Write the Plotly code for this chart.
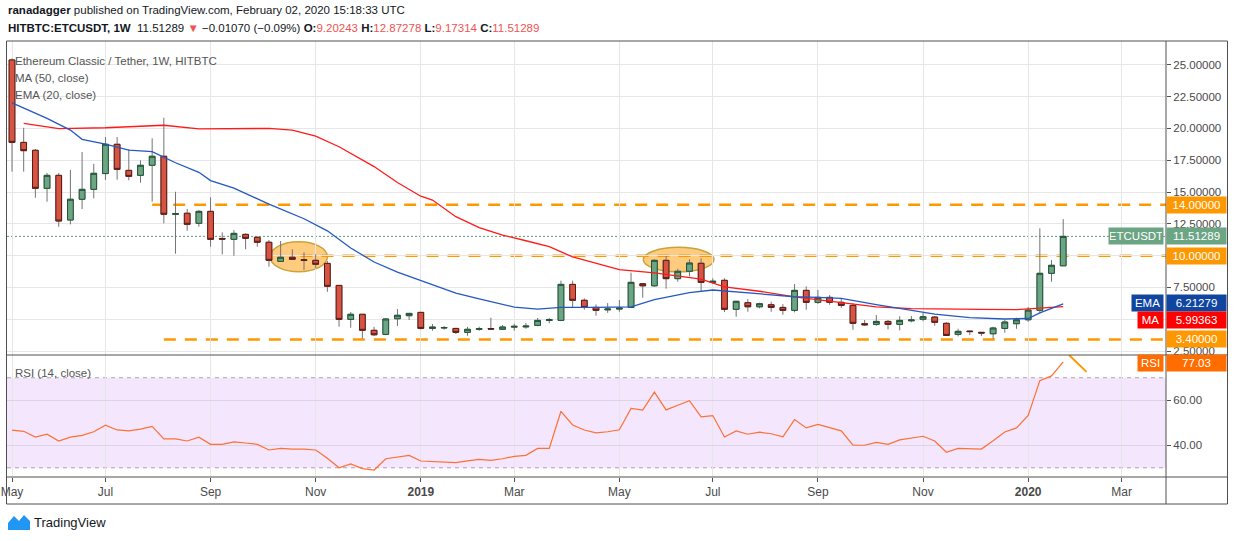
import datetime as dt
import plotly.graph_objects as go
from plotly.subplots import make_subplots

# ETC/USDT weekly candles (HITBTC), first bar = week of 2018-05-07
first_week = dt.datetime(2018, 5, 7)

opens = [25.38, 18.9, 18.28, 15.29, 16.31, 12.8, 14.43, 15.21, 16.45, 18.75,
         16.7, 16.31, 17.1, 17.81, 13.25, 13.33, 12.54, 13.48, 11.35, 11.28,
         11.67, 11.44, 11.05, 9.55, 9.87, 9.68, 9.63, 9.39, 7.66, 4.99,
         5.39, 4.13, 3.81, 5.04, 5.28, 5.54, 4.28, 4.31, 4.28, 3.97,
         4.21, 4.27, 4.21, 4.38, 4.40, 4.52, 4.9, 4.91, 7.74, 6.49,
         5.93, 5.74, 5.8, 5.93, 7.79, 7.63, 9.63, 8.19, 8.77, 9.4,
         7.9, 8.06, 5.78, 6.3, 5.98, 6.14, 5.93, 5.7, 7.27, 6.33,
         6.72, 6.33, 6.09, 4.65, 4.6, 4.83, 4.6, 4.88, 5.0, 5.17,
         4.68, 3.81, 4.07, 3.97, 3.86, 4.28, 4.65, 4.96, 5.7, 8.61,
         9.20243]
highs = [25.5, 20.05, 18.38, 16.5, 16.5, 16.73, 18.14, 17.22, 19.32, 19.32,
         18.38, 17.49, 19.22, 20.84, 15.02, 13.66, 13.6, 14.58, 11.83, 12.0,
         11.75, 11.5, 11.23, 11.15, 10.5, 10.26, 10.1, 9.58, 7.66, 5.57,
         5.4, 4.41, 5.1, 5.8, 5.5, 5.55, 4.62, 4.47, 4.28, 4.4,
         4.41, 5.12, 4.55, 4.65, 4.7, 5.1, 5.1, 8.03, 8.03, 6.64,
         6.16, 6.27, 6.51, 8.66, 7.8, 9.71, 9.97, 8.97, 9.71, 9.79,
         8.22, 8.22, 6.45, 6.59, 6.3, 6.38, 6.19, 7.77, 7.58, 7.3,
         6.9, 6.64, 6.25, 4.94, 5.33, 4.94, 5.23, 5.25, 5.51, 5.25,
         4.76, 4.25, 4.08, 4.0, 4.41, 4.94, 5.12, 5.96, 12.15, 9.65,
         12.87278]
lows = [16.6, 16.6, 14.55, 14.24, 12.27, 12.46, 13.66, 14.5, 15.94, 15.97,
        15.92, 15.73, 14.24, 12.54, 10.15, 11.96, 12.27, 10.7, 10.1, 9.99,
        10.5, 10.7, 9.13, 9.52, 9.68, 8.87, 9.0, 7.16, 4.41, 4.33,
        3.5, 3.68, 3.75, 4.47, 4.94, 4.2, 4.1, 4.18, 3.84, 3.7,
        4.1, 4.2, 4.2, 4.1, 4.25, 4.45, 4.68, 4.85, 5.93, 5.75,
        5.28, 5.5, 5.58, 5.9, 6.69, 7.55, 7.4, 7.95, 8.37, 7.22,
        7.77, 5.57, 5.2, 5.59, 5.86, 5.59, 5.35, 5.54, 5.75, 6.2,
        6.14, 5.9, 4.17, 4.47, 4.49, 4.2, 4.13, 4.76, 4.85, 4.49,
        3.68, 3.65, 3.76, 3.68, 3.47, 3.94, 4.25, 4.8, 5.46, 7.95,
        9.17314]
closes = [18.9, 18.25, 15.29, 16.31, 12.72, 14.43, 15.21, 16.47, 18.75, 16.78,
          16.23, 17.1, 17.81, 13.25, 13.3, 12.46, 13.48, 11.28, 11.3, 11.75,
          11.36, 11.05, 9.63, 9.87, 9.71, 9.63, 9.32, 7.59, 4.99, 5.39,
          4.13, 3.78, 5.02, 5.31, 5.46, 4.28, 4.38, 4.35, 3.97, 4.21,
          4.25, 4.23, 4.39, 4.44, 4.46, 4.91, 4.97, 7.74, 6.49, 5.93,
          5.7, 5.8, 5.88, 7.9, 7.63, 9.63, 8.19, 8.77, 9.42, 7.9,
          7.98, 5.78, 6.41, 5.98, 6.22, 5.93, 5.7, 7.27, 6.33, 6.72,
          6.33, 6.09, 4.68, 4.57, 4.83, 4.6, 4.91, 4.94, 5.2, 4.76,
          3.73, 4.05, 4.03, 3.92, 4.31, 4.78, 4.96, 5.72, 8.61, 9.24,
          11.51289]

# RSI (14, close), one value per bar
rsi = [46.7, 46.2, 43.6, 44.9, 41.9, 43.6, 44.4, 46.0, 48.9, 46.8,
       46.4, 47.2, 48.4, 42.8, 42.8, 41.9, 43.6, 40.4, 40.4, 41.5,
       41.0, 40.4, 37.9, 38.6, 38.3, 38.3, 37.9, 34.2, 30.0, 31.7,
       29.6, 29.0, 34.0, 34.9, 35.5, 33.0, 32.8, 32.8, 32.3, 33.1,
       33.7, 33.3, 34.0, 35.1, 35.5, 38.6, 38.6, 55.1, 49.0, 46.8,
       45.5, 46.0, 46.9, 56.4, 55.6, 63.6, 55.7, 57.8, 59.8, 52.6,
       53.2, 43.7, 46.4, 44.9, 45.8, 45.1, 43.7, 51.4, 47.7, 49.3,
       47.7, 46.4, 40.1, 40.0, 41.3, 40.4, 42.4, 43.1, 44.0, 41.9,
       36.9, 38.6, 38.6, 38.3, 42.0, 45.9, 47.7, 53.3, 68.7, 70.8,
       77.03]

# moving averages (bar index, value)
ma50_bar = [1, 4, 8, 13, 16, 22, 24, 26, 28, 31, 33, 35, 36, 38, 40, 42, 44, 46,
            48, 50, 52, 55, 59, 61, 64, 67, 68, 71, 74, 77, 80, 83, 86, 88, 90]
ma50_val = [20.4, 19.98, 20.05, 20.25, 19.97, 20.0, 19.87, 19.4, 18.56, 17.0, 15.75,
            14.67, 14.37, 13.06, 12.2, 11.62, 11.17, 10.7, 9.9, 9.4, 8.9, 8.65, 8.15,
            7.55, 7.2, 6.75, 6.64, 6.3, 5.98, 5.83, 5.78, 5.78, 5.76, 5.85, 5.99363]
ema20_bar = [0, 3, 5, 6, 8, 10, 12, 14, 16, 17, 19, 22, 25, 27, 29, 31, 33, 36, 38,
             40, 43, 45, 47, 50, 53, 55, 58, 60, 61, 64, 67, 69, 71, 74, 76, 79, 82,
             85, 87, 88, 90]
ema20_val = [22.0, 20.79, 19.87, 19.14, 18.77, 18.3, 18.17, 17.3, 16.55, 15.9, 15.3,
             14.05, 12.9, 11.95, 10.6, 9.5, 8.7, 7.75, 7.06, 6.6, 5.96, 5.8, 5.94, 5.94,
             5.98, 6.55, 7.1, 7.3, 7.22, 6.95, 6.77, 6.72, 6.64, 6.15, 5.85, 5.4, 5.12,
             5.02, 5.06, 5.5, 6.21279]

# horizontal levels and where they begin (bar index)
levels = [14.0, 10.0, 3.4]
level_start = [12, 24.7, 13]

# highlighted consolidation zones (bar from, bar to, price low, price high)
zones = [(22.1, 27.0, 8.73, 11.09), (54.05, 60.1, 8.73, 10.65)]

tick_dates = ["2018-05-07", "2018-07-02", "2018-09-03", "2018-11-05", "2019-01-07",
              "2019-03-04", "2019-05-06", "2019-07-01", "2019-09-02", "2019-11-04",
              "2020-01-06", "2020-03-02"]
tick_text = ["May", "Jul", "Sep", "Nov", "<b>2019</b>", "Mar", "May", "Jul", "Sep",
             "Nov", "<b>2020</b>", "Mar"]

W, H = 1234, 541
ML, MR, MT, MB = 7, 68, 41, 64
FONT = "Liberation Sans, Arial, sans-serif"
UP, UP_EDGE = "#6BA583", "#225437"
DN, DN_EDGE = "#D75442", "#5B1A13"
WICK = "#737375"
ORANGE = "#FF9800"
RED_TXT = "#EF5350"
GRID = "#E6E6E6"
FRAME = "#505050"


def bar_date(i):
    return first_week + dt.timedelta(weeks=i)


def px(x):
    return (x - ML) / (W - ML - MR)


def py(y):
    return (H - MB - y) / (H - MT - MB)


dates = [bar_date(i) for i in range(len(closes))]
body_hi = [max(o, c) for o, c in zip(opens, closes)]
body_lo = [min(o, c) for o, c in zip(opens, closes)]

split = py(355)
fig = make_subplots(rows=2, cols=1, shared_xaxes=True, vertical_spacing=0,
                    row_heights=[1 - split, split])

# wicks
fig.add_trace(go.Candlestick(
    x=dates, open=opens, high=highs, low=lows, close=closes,
    increasing=dict(line=dict(color=WICK, width=1), fillcolor="rgba(0,0,0,0)"),
    decreasing=dict(line=dict(color=WICK, width=1), fillcolor="rgba(0,0,0,0)"),
    whiskerwidth=0, showlegend=False, hoverinfo="skip"), row=1, col=1)
# bodies
fig.add_trace(go.Candlestick(
    x=dates, open=opens, high=body_hi, low=body_lo, close=closes,
    increasing=dict(line=dict(color=UP_EDGE, width=1), fillcolor=UP),
    decreasing=dict(line=dict(color=DN_EDGE, width=1), fillcolor=DN),
    whiskerwidth=0, showlegend=False), row=1, col=1)

fig.add_trace(go.Scatter(x=[bar_date(i) for i in ma50_bar], y=ma50_val, mode="lines",
                         line=dict(color="#FF1A1A", width=1.3), showlegend=False),
              row=1, col=1)
fig.add_trace(go.Scatter(x=[bar_date(i) for i in ema20_bar], y=ema20_val, mode="lines",
                         line=dict(color="#2458C2", width=1.3), showlegend=False),
              row=1, col=1)

fig.add_trace(go.Scatter(x=dates, y=rsi, mode="lines",
                         line=dict(color="#FF7033", width=1.2), showlegend=False),
              row=2, col=1)

x_lo = bar_date((ML - 12) / 11.68)
x_hi = bar_date((W - MR - 12) / 11.68)

shapes = []
# RSI band
shapes.append(dict(type="rect", xref="x2", yref="y2", x0=x_lo, x1=x_hi, y0=30, y1=70,
                   fillcolor="#F3E6FD", line=dict(width=0), layer="below"))
for lv in (70, 30):
    shapes.append(dict(type="line", xref="x2", yref="y2", x0=x_lo, x1=x_hi, y0=lv, y1=lv,
                       line=dict(color="#ABA3B3", width=1, dash="4px,4px"), layer="below"))
# zones
for b0, b1, p0, p1 in zones:
    shapes.append(dict(type="circle", xref="x", yref="y", x0=bar_date(b0), x1=bar_date(b1),
                       y0=p0, y1=p1, fillcolor="rgba(255,152,0,0.5)",
                       line=dict(color="#C9A43A", width=1.5), layer="below"))
# levels
for lv, st in zip(levels, level_start):
    shapes.append(dict(type="line", xref="x", yref="y", x0=bar_date(st), x1=x_hi,
                       y0=lv, y1=lv, line=dict(color=ORANGE, width=2.5, dash="12px,9px"),
                       layer="below"))
# last price
shapes.append(dict(type="line", xref="x", yref="y", x0=x_lo, x1=x_hi,
                   y0=closes[-1], y1=closes[-1],
                   line=dict(color="#5E9C77", width=1, dash="2px,2px"), layer="below"))
# drawn trendline on RSI
shapes.append(dict(type="line", xref="x2", yref="y2", x0=bar_date(90.5), y0=80.1,
                   x1=bar_date(92.0), y1=72.6, line=dict(color=ORANGE, width=2)))
# frame
shapes.append(dict(type="rect", xref="paper", yref="paper", x0=px(6.5), x1=px(1227.5),
                   y0=py(504), y1=py(41), line=dict(color=FRAME, width=1)))
shapes.append(dict(type="line", xref="paper", yref="paper", x0=1, x1=1,
                   y0=py(504), y1=py(41), line=dict(color=FRAME, width=1)))
for yy in (355, 477):
    shapes.append(dict(type="line", xref="paper", yref="paper", x0=px(6.5), x1=px(1227.5),
                       y0=py(yy), y1=py(yy), line=dict(color=FRAME, width=1)))
# TradingView logo
logo = [(8, 530), (8, 523), (14, 516), (19, 521), (24, 515), (30, 521), (30, 530)]
path = "M " + " L ".join(f"{px(a):.5f},{py(b):.5f}" for a, b in logo) + " Z"
shapes.append(dict(type="path", xref="paper", yref="paper", path=path,
                   fillcolor="#2196F3", line=dict(width=0)))

ann = []
hdr2 = ("<b>HITBTC:ETCUSDT, 1W</b>  11.51289 <span style='color:%s'>▼</span> "
        "−0.01070 (−0.09%%) <b>O:</b><span style='color:%s'>9.20243</span> "
        "<b>H:</b><span style='color:%s'>12.87278</span> "
        "<b>L:</b><span style='color:%s'>9.17314</span> "
        "<b>C:</b><span style='color:%s'>11.51289</span>") % ((RED_TXT,) * 5)
ann.append(dict(text="<b>ranadagger</b> published on TradingView.com, February 02, 2020 15:18:33 UTC",
                x=px(6), y=py(10), font=dict(size=11.5, color="#131722")))
ann.append(dict(text=hdr2, x=px(6), y=py(28), font=dict(size=11.5, color="#131722")))
for txt, yy in (("Ethereum Classic / Tether, 1W, HITBTC", 61), ("MA (50, close)", 78),
                ("EMA (20, close)", 95), ("RSI (14, close)", 373)):
    ann.append(dict(text=txt, x=px(13), y=py(yy), font=dict(size=11.5, color="#555555")))
ann.append(dict(text="TradingView", x=px(32), y=py(522), font=dict(size=13, color="#131722")))
for a in ann:
    a.update(xref="paper", yref="paper", xanchor="left", yanchor="middle", showarrow=False)


def price_label(text, yv, bg, yref="y", left=None, left_w=0):
    out = [dict(text=text, x=1, xanchor="left", xref="paper", y=yv, yref=yref,
                yanchor="middle", showarrow=False, bgcolor=bg, width=57, height=14,
                borderpad=1, align="center", font=dict(size=11.5, color="white"))]
    if left:
        out.append(dict(text=left, x=px(1164), xanchor="right", xref="paper", y=yv,
                        yref=yref, yanchor="middle", showarrow=False, bgcolor=bg,
                        width=left_w, height=14, borderpad=1, align="center",
                        font=dict(size=11.5, color="white")))
    return out


ann += price_label("14.00000", 14.0, ORANGE)
ann += price_label("11.51289", closes[-1], UP, left="ETCUSDT", left_w=52)
ann += price_label("10.00000", 10.0, ORANGE)
ann += price_label("6.21279", 6.31, "#1046A0", left="EMA", left_w=29)
ann += price_label("5.99363", 4.98, "#FF0000", left="MA", left_w=23)
ann += price_label("3.40000", 3.44, ORANGE)
ann += price_label("77.03", 76.5, "#FF6D00", yref="y2", left="RSI", left_w=23)

fig.update_layout(
    width=W, height=H, margin=dict(l=ML, r=MR, t=MT, b=MB, autoexpand=False),
    paper_bgcolor="white", plot_bgcolor="white",
    font=dict(family=FONT, size=12, color="#4A4A4A"),
    showlegend=False, shapes=shapes, annotations=ann,
)
fig.update_xaxes(range=[x_lo, x_hi], tickvals=tick_dates, ticktext=tick_text,
                 showgrid=True, gridcolor=GRID, zeroline=False, showline=False,
                 rangeslider_visible=False, automargin=False)
fig.update_xaxes(showticklabels=False, ticks="", row=1, col=1)
fig.update_xaxes(ticks="outside", ticklen=4, tickcolor=FRAME, tickfont=dict(size=12),
                 ticklabeloverflow="allow", row=2, col=1)
fig.update_yaxes(domain=[split, 1], side="right", range=[2.19, 26.87],
                 tickvals=[2.5 * k for k in range(1, 11)],
                 ticktext=["%.5f" % (2.5 * k) for k in range(1, 11)],
                 tickfont=dict(size=11.5), automargin=False,
                 showgrid=True, gridcolor=GRID, zeroline=False, ticks="outside",
                 ticklen=4, tickcolor=FRAME, row=1, col=1)
fig.update_yaxes(domain=[0, split], side="right", range=[25.9, 80.1],
                 tickvals=[40, 60], ticktext=["40.00", "60.00"], tickfont=dict(size=11.5),
                 automargin=False,
                 showgrid=True, gridcolor="#DCD3E6", zeroline=False, ticks="outside",
                 ticklen=4, tickcolor=FRAME, row=2, col=1)

# page body has a default 8px margin; remove it so the figure sits at the window corner
fig.write_html("out.html", config={"displayModeBar": False},
               post_script="document.body.style.margin='0px';")
